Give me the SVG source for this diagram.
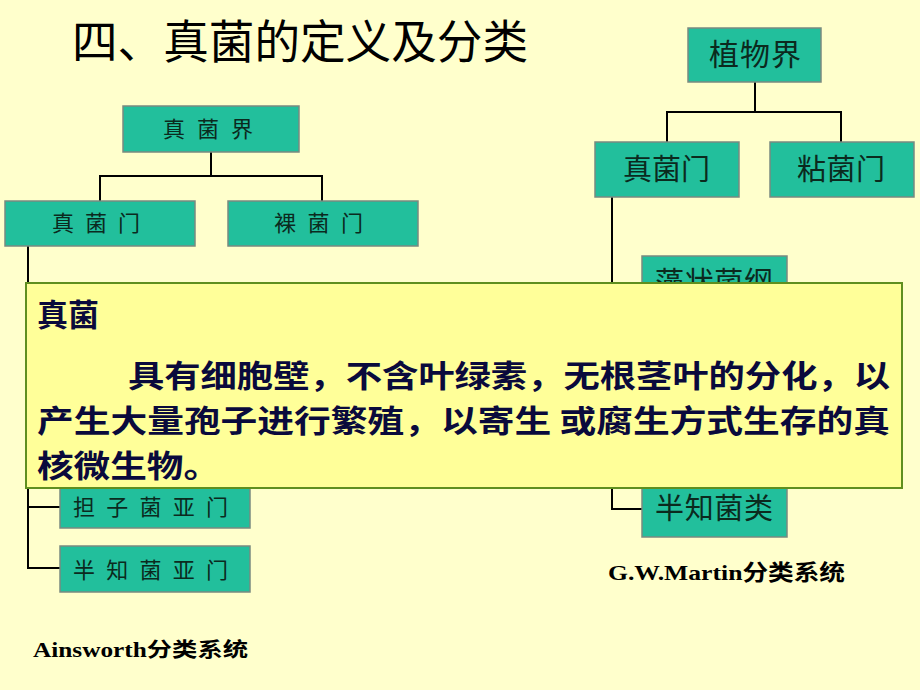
<svg xmlns="http://www.w3.org/2000/svg" width="920" height="690" viewBox="0 0 920 690">
<style>
.cjk{font-family:"Noto Sans CJK SC","Liberation Sans",sans-serif}
.box{fill:#22bf9c;stroke:#7a8a80;stroke-width:1.5}
.nt{font-family:"Noto Sans CJK SC","Liberation Sans",sans-serif;fill:#0b2a1e;text-anchor:start}
.ln{stroke:#000;stroke-width:2;fill:none}
.cap{font-family:"Liberation Serif","Noto Sans CJK SC",serif;font-weight:bold;fill:#000}
.ov{font-family:"Noto Sans CJK SC","Liberation Sans",sans-serif;font-weight:bold;fill:#0a0a3c}
</style>
<rect x="0" y="0" width="920" height="690" fill="#ffffcc"/>
<text class="cjk" x="72" y="58" font-size="46" fill="#000" textLength="456" lengthAdjust="spacingAndGlyphs">四、真菌的定义及分类</text>
<g id="connectors">
<path class="ln" d="M211 152V176M100 201V176H322V201"/>
<path class="ln" d="M28 246V568H60M28 507H60"/>
<path class="ln" d="M755 82V112M667 142V112H841V142"/>
<path class="ln" d="M612 197V509H642"/>
</g>
<g id="n-zjj"><rect class="box" x="123" y="106" width="176" height="46"/><text class="nt" x="163" y="137" font-size="22" textLength="90">真 菌 界</text></g>
<g id="n-zjm-l"><rect class="box" x="5" y="201" width="190" height="45"/><text class="nt" x="52" y="231" font-size="22" textLength="88">真 菌 门</text></g>
<g id="n-lujm"><rect class="box" x="228" y="201" width="190" height="45"/><text class="nt" x="274" y="231" font-size="22" textLength="89">裸 菌 门</text></g>
<g id="n-dzjym"><rect class="box" x="60" y="484" width="190" height="44"/><text class="nt" x="73" y="515" font-size="22" textLength="155">担 子 菌 亚 门</text></g>
<g id="n-bzjym"><rect class="box" x="60" y="546" width="190" height="46"/><text class="nt" x="73" y="578" font-size="22" textLength="155">半 知 菌 亚 门</text></g>
<g id="n-zwj"><rect class="box" x="688" y="28" width="133" height="54"/><text class="nt" x="709" y="65" font-size="30" textLength="92">植物界</text></g>
<g id="n-zjm-r"><rect class="box" x="595" y="142" width="144" height="55"/><text class="nt" x="623" y="180" font-size="29" textLength="87">真菌门</text></g>
<g id="n-njm"><rect class="box" x="770" y="142" width="144" height="55"/><text class="nt" x="797" y="180" font-size="29" textLength="88">粘菌门</text></g>
<g id="n-zzjg"><rect class="box" x="642" y="256" width="145" height="60"/><text class="nt" x="655" y="293" font-size="29" textLength="118">藻状菌纲</text></g>
<g id="n-bzjl"><rect class="box" x="642" y="480" width="145" height="57"/><text class="nt" x="655" y="519" font-size="29" textLength="118">半知菌类</text></g>
<text class="cap" x="33" y="657" font-size="20" textLength="215" lengthAdjust="spacingAndGlyphs">Ainsworth分类系统</text>
<text class="cap" x="608" y="580" font-size="22" textLength="237" lengthAdjust="spacingAndGlyphs">G.W.Martin分类系统</text>
<g id="definition">
<rect x="26" y="283" width="876" height="205" fill="#ffff99" stroke="#5f8f1f" stroke-width="2"/>
<text class="ov" x="37" y="326" font-size="31">真菌</text>
<text class="ov" x="128" y="387" font-size="31" textLength="762" lengthAdjust="spacingAndGlyphs">具有细胞壁，不含叶绿素，无根茎叶的分化，以</text>
<text class="ov" x="37" y="432" font-size="31" textLength="853" lengthAdjust="spacingAndGlyphs">产生大量孢子进行繁殖，以寄生 或腐生方式生存的真</text>
<text class="ov" x="37" y="477" font-size="31" textLength="183" lengthAdjust="spacingAndGlyphs">核微生物。</text>
</g>
</svg>
